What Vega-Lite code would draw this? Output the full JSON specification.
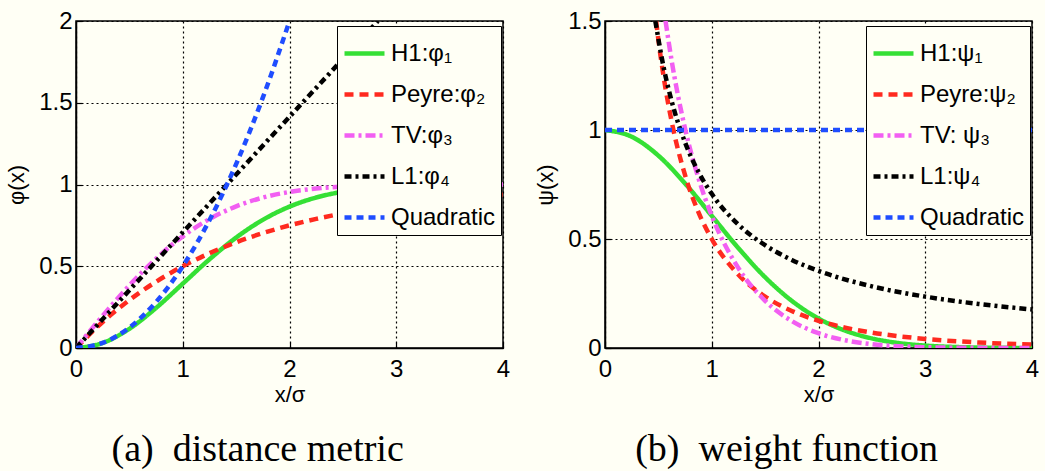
{
  "$schema": "https://vega.github.io/schema/vega-lite/v6.json",
  "background": "#fffff5",
  "padding": {"left": 4, "top": 8, "right": 5, "bottom": 5},
  "spacing": 22,
  "config": {
    "font": "Liberation Sans",
    "view": {"stroke": "#000", "strokeWidth": 1.5},
    "axis": {
      "labelFont": "Liberation Sans", "labelFontSize": 24, "labelColor": "#000",
      "titleFont": "Liberation Sans", "titleFontSize": 22, "titleFontWeight": "normal", "titleColor": "#000",
      "domainColor": "#000", "domainWidth": 1.5,
      "tickColor": "#000", "tickSize": -6, "tickWidth": 1.2,
      "gridColor": "#000", "gridDash": [2, 3], "gridWidth": 1.2, "gridOpacity": 1,
      "labelFlush": false, "labelOverlap": false
    },
    "legend": {
      "orient": "none", "legendX": 261, "legendY": 5,
      "strokeColor": "#000", "fillColor": "#fffff5", "padding": 5,
      "symbolType": "stroke", "symbolSize": 1600, "symbolStrokeWidth": 4.5,
      "labelFont": "Liberation Sans", "labelFontSize": 24, "labelColor": "#000",
      "labelOffset": 4, "rowPadding": 6, "labelLimit": 300
    },
    "title": {"font": "Liberation Serif", "fontSize": 38, "fontWeight": "normal", "color": "#000"}
  },
  "resolve": {
    "scale": {"color": "independent", "strokeDash": "independent"},
    "legend": {"color": "independent", "strokeDash": "independent"}
  },
  "datasets": {
    "phi": [
      {"s": "H1:φ₁", "x": 0, "y": 0}, {"s": "H1:φ₁", "x": 0.25, "y": 0.0308}, {"s": "H1:φ₁", "x": 0.5, "y": 0.1175}, {"s": "H1:φ₁", "x": 0.75, "y": 0.2452},
      {"s": "H1:φ₁", "x": 1, "y": 0.3935}, {"s": "H1:φ₁", "x": 1.25, "y": 0.5422}, {"s": "H1:φ₁", "x": 1.5, "y": 0.6753}, {"s": "H1:φ₁", "x": 1.75, "y": 0.7837},
      {"s": "H1:φ₁", "x": 2, "y": 0.8647}, {"s": "H1:φ₁", "x": 2.25, "y": 0.9204}, {"s": "H1:φ₁", "x": 2.5, "y": 0.9561}, {"s": "H1:φ₁", "x": 2.75, "y": 0.9772},
      {"s": "H1:φ₁", "x": 3, "y": 0.9889}, {"s": "H1:φ₁", "x": 3.25, "y": 0.9949}, {"s": "H1:φ₁", "x": 3.5, "y": 0.9978}, {"s": "H1:φ₁", "x": 3.75, "y": 0.9991},
      {"s": "H1:φ₁", "x": 4, "y": 0.9997},
      {"s": "Peyre:φ₂", "x": 0, "y": 0}, {"s": "Peyre:φ₂", "x": 0.25, "y": 0.1591}, {"s": "Peyre:φ₂", "x": 0.5, "y": 0.2929}, {"s": "Peyre:φ₂", "x": 0.75, "y": 0.4054},
      {"s": "Peyre:φ₂", "x": 1, "y": 0.5}, {"s": "Peyre:φ₂", "x": 1.25, "y": 0.5796}, {"s": "Peyre:φ₂", "x": 1.5, "y": 0.6464}, {"s": "Peyre:φ₂", "x": 1.75, "y": 0.7027},
      {"s": "Peyre:φ₂", "x": 2, "y": 0.75}, {"s": "Peyre:φ₂", "x": 2.25, "y": 0.7898}, {"s": "Peyre:φ₂", "x": 2.5, "y": 0.8232}, {"s": "Peyre:φ₂", "x": 2.75, "y": 0.8513},
      {"s": "Peyre:φ₂", "x": 3, "y": 0.875}, {"s": "Peyre:φ₂", "x": 3.25, "y": 0.8949}, {"s": "Peyre:φ₂", "x": 3.5, "y": 0.9116}, {"s": "Peyre:φ₂", "x": 3.75, "y": 0.9257},
      {"s": "Peyre:φ₂", "x": 4, "y": 0.9375},
      {"s": "TV:φ₃", "x": 0, "y": 0}, {"s": "TV:φ₃", "x": 0.25, "y": 0.1974}, {"s": "TV:φ₃", "x": 0.5, "y": 0.3829}, {"s": "TV:φ₃", "x": 0.75, "y": 0.5467},
      {"s": "TV:φ₃", "x": 1, "y": 0.6827}, {"s": "TV:φ₃", "x": 1.25, "y": 0.7887}, {"s": "TV:φ₃", "x": 1.5, "y": 0.8664}, {"s": "TV:φ₃", "x": 1.75, "y": 0.9199},
      {"s": "TV:φ₃", "x": 2, "y": 0.9545}, {"s": "TV:φ₃", "x": 2.25, "y": 0.9756}, {"s": "TV:φ₃", "x": 2.5, "y": 0.9876}, {"s": "TV:φ₃", "x": 2.75, "y": 0.994},
      {"s": "TV:φ₃", "x": 3, "y": 0.9973}, {"s": "TV:φ₃", "x": 3.25, "y": 0.9988}, {"s": "TV:φ₃", "x": 3.5, "y": 0.9995}, {"s": "TV:φ₃", "x": 3.75, "y": 0.9998},
      {"s": "TV:φ₃", "x": 4, "y": 0.9999},
      {"s": "L1:φ₄", "x": 0, "y": 0}, {"s": "L1:φ₄", "x": 1, "y": 0.7071}, {"s": "L1:φ₄", "x": 2, "y": 1.4142}, {"s": "L1:φ₄", "x": 2.8284, "y": 2},
      {"s": "Quadratic", "x": 0, "y": 0}, {"s": "Quadratic", "x": 0.25, "y": 0.03125}, {"s": "Quadratic", "x": 0.5, "y": 0.125}, {"s": "Quadratic", "x": 0.75, "y": 0.28125},
      {"s": "Quadratic", "x": 1, "y": 0.5}, {"s": "Quadratic", "x": 1.25, "y": 0.78125}, {"s": "Quadratic", "x": 1.5, "y": 1.125}, {"s": "Quadratic", "x": 1.75, "y": 1.53125},
      {"s": "Quadratic", "x": 2, "y": 2}
    ],
    "psi": [
      {"s": "H1:ψ₁", "x": 0, "y": 1}, {"s": "H1:ψ₁", "x": 0.25, "y": 0.9692}, {"s": "H1:ψ₁", "x": 0.5, "y": 0.8825}, {"s": "H1:ψ₁", "x": 0.75, "y": 0.7548},
      {"s": "H1:ψ₁", "x": 1, "y": 0.6065}, {"s": "H1:ψ₁", "x": 1.25, "y": 0.4578}, {"s": "H1:ψ₁", "x": 1.5, "y": 0.3247}, {"s": "H1:ψ₁", "x": 1.75, "y": 0.2163},
      {"s": "H1:ψ₁", "x": 2, "y": 0.1353}, {"s": "H1:ψ₁", "x": 2.25, "y": 0.0796}, {"s": "H1:ψ₁", "x": 2.5, "y": 0.0439}, {"s": "H1:ψ₁", "x": 2.75, "y": 0.0228},
      {"s": "H1:ψ₁", "x": 3, "y": 0.0111}, {"s": "H1:ψ₁", "x": 3.25, "y": 0.0051}, {"s": "H1:ψ₁", "x": 3.5, "y": 0.0022}, {"s": "H1:ψ₁", "x": 3.75, "y": 0.0009},
      {"s": "H1:ψ₁", "x": 4, "y": 0.0003},
      {"s": "Peyre:ψ₂", "x": 0.479, "y": 1.5}, {"s": "Peyre:ψ₂", "x": 0.5, "y": 1.4142}, {"s": "Peyre:ψ₂", "x": 0.55, "y": 1.2418}, {"s": "Peyre:ψ₂", "x": 0.625, "y": 1.0374},
      {"s": "Peyre:ψ₂", "x": 0.75, "y": 0.7928}, {"s": "Peyre:ψ₂", "x": 0.875, "y": 0.6232}, {"s": "Peyre:ψ₂", "x": 1, "y": 0.5}, {"s": "Peyre:ψ₂", "x": 1.25, "y": 0.3364},
      {"s": "Peyre:ψ₂", "x": 1.5, "y": 0.2357}, {"s": "Peyre:ψ₂", "x": 1.75, "y": 0.1699}, {"s": "Peyre:ψ₂", "x": 2, "y": 0.125}, {"s": "Peyre:ψ₂", "x": 2.25, "y": 0.0934},
      {"s": "Peyre:ψ₂", "x": 2.5, "y": 0.0707}, {"s": "Peyre:ψ₂", "x": 2.75, "y": 0.0541}, {"s": "Peyre:ψ₂", "x": 3, "y": 0.0417}, {"s": "Peyre:ψ₂", "x": 3.25, "y": 0.0323},
      {"s": "Peyre:ψ₂", "x": 3.5, "y": 0.0253}, {"s": "Peyre:ψ₂", "x": 3.75, "y": 0.0198}, {"s": "Peyre:ψ₂", "x": 4, "y": 0.0156},
      {"s": "TV: ψ₃", "x": 0.567, "y": 1.5}, {"s": "TV: ψ₃", "x": 0.625, "y": 1.3162}, {"s": "TV: ψ₃", "x": 0.75, "y": 1.0064}, {"s": "TV: ψ₃", "x": 0.875, "y": 0.7794},
      {"s": "TV: ψ₃", "x": 1, "y": 0.6065}, {"s": "TV: ψ₃", "x": 1.25, "y": 0.3663}, {"s": "TV: ψ₃", "x": 1.5, "y": 0.2164}, {"s": "TV: ψ₃", "x": 1.75, "y": 0.1236},
      {"s": "TV: ψ₃", "x": 2, "y": 0.0677}, {"s": "TV: ψ₃", "x": 2.25, "y": 0.0354}, {"s": "TV: ψ₃", "x": 2.5, "y": 0.0176}, {"s": "TV: ψ₃", "x": 2.75, "y": 0.0083},
      {"s": "TV: ψ₃", "x": 3, "y": 0.0037}, {"s": "TV: ψ₃", "x": 3.25, "y": 0.0016}, {"s": "TV: ψ₃", "x": 3.5, "y": 0.0006}, {"s": "TV: ψ₃", "x": 3.75, "y": 0.0002},
      {"s": "TV: ψ₃", "x": 4, "y": 0.0001},
      {"s": "L1:ψ₄", "x": 0.4714, "y": 1.5}, {"s": "L1:ψ₄", "x": 0.55, "y": 1.2856}, {"s": "L1:ψ₄", "x": 0.625, "y": 1.1314}, {"s": "L1:ψ₄", "x": 0.75, "y": 0.9428},
      {"s": "L1:ψ₄", "x": 0.875, "y": 0.8081}, {"s": "L1:ψ₄", "x": 1, "y": 0.7071}, {"s": "L1:ψ₄", "x": 1.25, "y": 0.5657}, {"s": "L1:ψ₄", "x": 1.5, "y": 0.4714},
      {"s": "L1:ψ₄", "x": 1.75, "y": 0.4041}, {"s": "L1:ψ₄", "x": 2, "y": 0.3536}, {"s": "L1:ψ₄", "x": 2.5, "y": 0.2828}, {"s": "L1:ψ₄", "x": 3, "y": 0.2357},
      {"s": "L1:ψ₄", "x": 3.5, "y": 0.202}, {"s": "L1:ψ₄", "x": 4, "y": 0.1768},
      {"s": "Quadratic", "x": 0, "y": 1}, {"s": "Quadratic", "x": 4, "y": 1}
    ]
  },
  "hconcat": [
    {
      "width": 427, "height": 327,
      "title": {"text": "(a)\u00a0 distance metric", "orient": "bottom", "anchor": "middle", "frame": "bounds", "offset": 26},
      "data": {"name": "phi"},
      "mark": {"type": "line", "strokeWidth": 4.5, "interpolate": "monotone", "clip": true},
      "encoding": {
        "x": {"field": "x", "type": "quantitative", "title": "x/σ",
              "scale": {"domain": [0, 4], "nice": false},
              "axis": {"values": [0, 1, 2, 3, 4], "format": "d", "labelPadding": 15, "titlePadding": 3}},
        "y": {"field": "y", "type": "quantitative", "title": "φ(x)",
              "scale": {"domain": [0, 2], "nice": false},
              "axis": {"values": [0, 0.5, 1, 1.5, 2], "format": "~g", "labelPadding": 10, "titlePadding": 10}},
        "color": {"field": "s", "type": "nominal", "title": null,
                  "scale": {"domain": ["H1:φ₁", "Peyre:φ₂", "TV:φ₃", "L1:φ₄", "Quadratic"],
                            "range": ["#35e035", "#ff2a1f", "#f25ff2", "#000000", "#1f4dff"]}},
        "strokeDash": {"field": "s", "type": "nominal", "title": null,
                  "scale": {"domain": ["H1:φ₁", "Peyre:φ₂", "TV:φ₃", "L1:φ₄", "Quadratic"],
                            "range": [[1, 0], [9, 6], [10, 4, 3, 4], [7, 4, 3, 4], [7, 5]]}}
      }
    },
    {
      "width": 427, "height": 327,
      "title": {"text": "(b)\u00a0 weight function", "orient": "bottom", "anchor": "middle", "frame": "bounds", "offset": 26},
      "data": {"name": "psi"},
      "mark": {"type": "line", "strokeWidth": 4.5, "interpolate": "monotone", "clip": true},
      "encoding": {
        "x": {"field": "x", "type": "quantitative", "title": "x/σ",
              "scale": {"domain": [0, 4], "nice": false},
              "axis": {"values": [0, 1, 2, 3, 4], "format": "d", "labelPadding": 15, "titlePadding": 3}},
        "y": {"field": "y", "type": "quantitative", "title": "ψ(x)",
              "scale": {"domain": [0, 1.5], "nice": false},
              "axis": {"values": [0, 0.5, 1, 1.5], "format": "~g", "labelPadding": 10, "titlePadding": 10}},
        "color": {"field": "s", "type": "nominal", "title": null,
                  "scale": {"domain": ["H1:ψ₁", "Peyre:ψ₂", "TV: ψ₃", "L1:ψ₄", "Quadratic"],
                            "range": ["#35e035", "#ff2a1f", "#f25ff2", "#000000", "#1f4dff"]}},
        "strokeDash": {"field": "s", "type": "nominal", "title": null,
                  "scale": {"domain": ["H1:ψ₁", "Peyre:ψ₂", "TV: ψ₃", "L1:ψ₄", "Quadratic"],
                            "range": [[1, 0], [9, 6], [10, 4, 3, 4], [7, 4, 3, 4], [7, 5]]}}
      }
    }
  ]
}
